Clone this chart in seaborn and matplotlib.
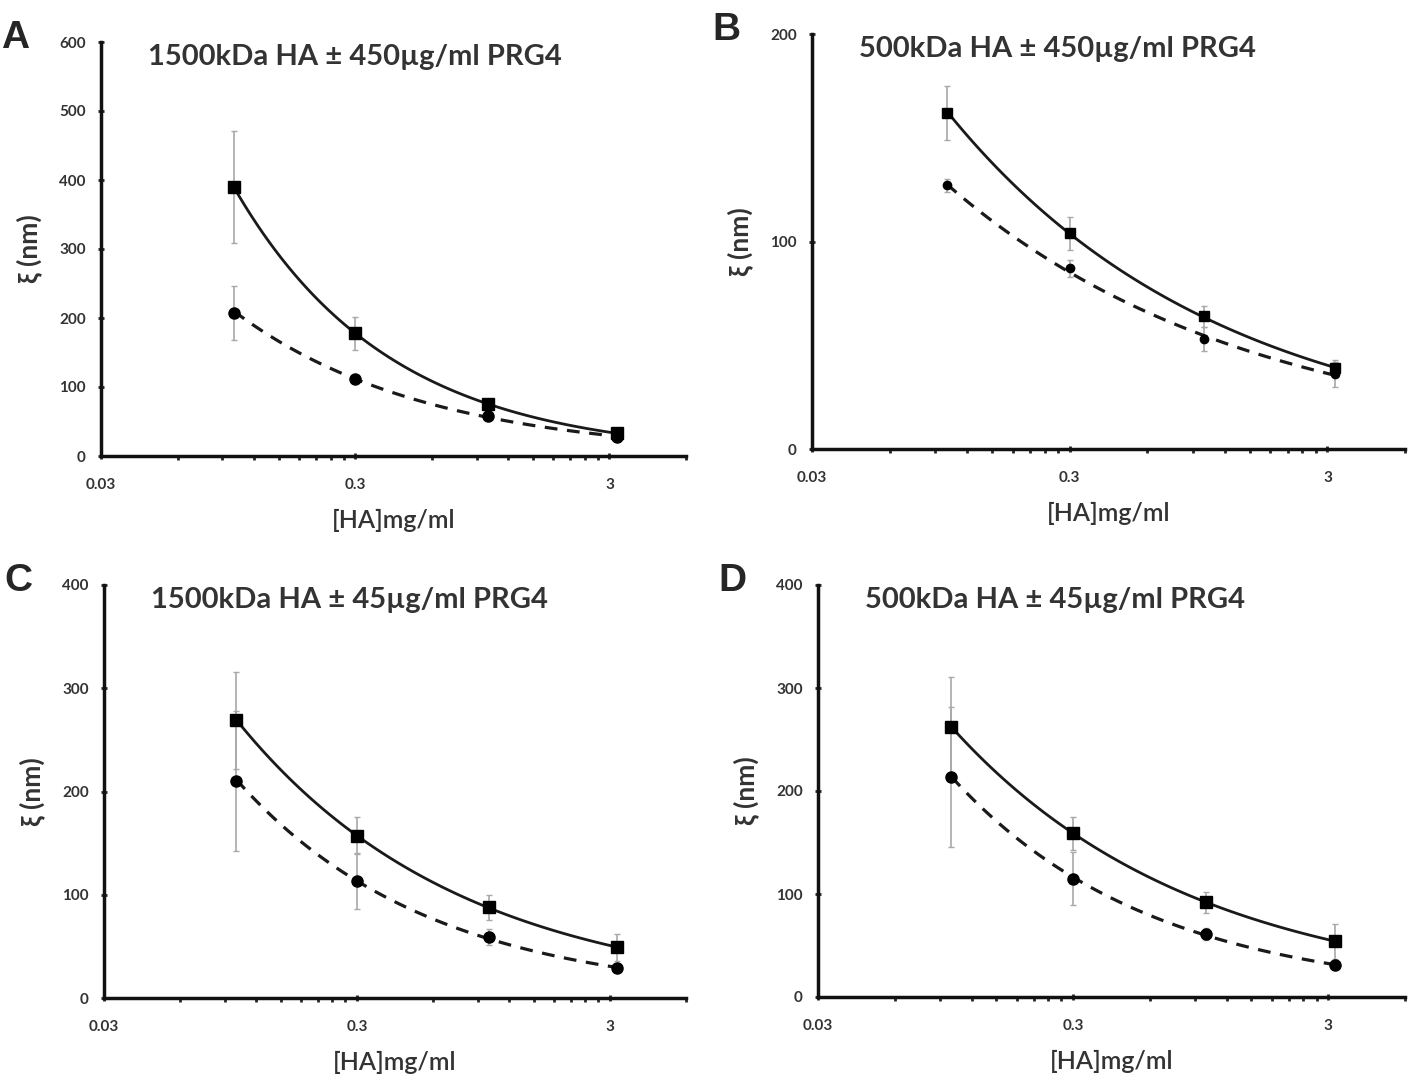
import numpy as np
import pandas as pd
import seaborn as sns
import matplotlib.pyplot as plt
from matplotlib.ticker import FixedLocator, NullFormatter

# HA concentration (mg/ml)
conc = [0.1, 0.3, 1.0, 3.2]

# square markers = solid fit, circle markers = dashed fit
a_sq = [390, 178, 75, 33]
a_sq_err = [81, 24, 6, 5]
a_ci = [207, 112, 58, 28]
a_ci_err = [39, 5, 5, 3]

b_sq = [162, 104, 64, 39]
b_sq_err = [13, 8, 5, 4]
b_ci = [127, 87, 53, 36]
b_ci_err = [3, 4, 6, 6]

c_sq = [269, 157, 88, 49]
c_sq_err = [47, 18, 12, 13]
c_ci = [210, 113, 59, 29]
c_ci_err = [68, 27, 8, 3]

d_sq = [262, 159, 92, 54]
d_sq_err = [49, 16, 10, 17]
d_ci = [214, 115, 61, 31]
d_ci_err = [68, 26, 6, 3]

titles = ["1500kDa HA \u00b1 450\u00b5g/ml PRG4", "500kDa HA \u00b1 450\u00b5g/ml PRG4",
          "1500kDa HA \u00b1 45\u00b5g/ml PRG4", "500kDa HA \u00b1 45\u00b5g/ml PRG4"]
letters = ["A", "B", "C", "D"]
ymax = [600, 200, 400, 400]

sns.set_style("ticks")
plt.rcParams['font.family'] = ['Lato', 'DejaVu Sans']

W, H = 1418, 1081
fig = plt.figure(figsize=(W / 100, H / 100), dpi=100)

# axes boxes in pixels: left, right, top, bottom
boxes = [(101, 686, 42, 456), (812, 1405, 34, 449),
         (104, 686, 585, 998), (818, 1405, 585, 997)]

panels = [(a_sq, a_sq_err, a_ci, a_ci_err), (b_sq, b_sq_err, b_ci, b_ci_err),
          (c_sq, c_sq_err, c_ci, c_ci_err), (d_sq, d_sq_err, d_ci, d_ci_err)]

gray = "#333333"


def power_fit(x, y):
    # Excel-style power trendline y = a * x^b
    b, loga = np.polyfit(np.log(x), np.log(y), 1)
    xs = np.geomspace(x[0], x[-1], 120)
    return pd.DataFrame({"x": xs, "y": np.exp(loga) * xs ** b})


for i, (l, r, t, b) in enumerate(boxes):
    ax = fig.add_axes([l / W, 1 - b / H, (r - l) / W, (b - t) / H])
    sq, sq_err, ci, ci_err = panels[i]
    ms = 9 if i != 1 else 7

    ax.errorbar(conc, sq, yerr=sq_err, fmt="none", ecolor="#a8a8a8", elinewidth=1.2, capsize=2, zorder=1)
    ax.errorbar(conc, ci, yerr=ci_err, fmt="none", ecolor="#a8a8a8", elinewidth=1.2, capsize=2, zorder=1)

    sns.lineplot(data=power_fit(conc, sq), x="x", y="y", ax=ax, color="#1a1a1a", lw=2, zorder=2)
    sns.lineplot(data=power_fit(conc, ci), x="x", y="y", ax=ax, color="#1a1a1a", lw=2.3,
                 linestyle=(0, (4, 3)), zorder=2)

    ax.plot(conc, sq, "s", color="black", ms=ms, zorder=3)
    ax.plot(conc, ci, "o", color="black", ms=ms - 1, zorder=3)

    ax.set_xscale("log")
    ax.set_xlim(0.03, 6)
    ax.set_ylim(0, ymax[i])
    ax.xaxis.set_major_locator(FixedLocator([0.03, 0.3, 3]))
    ax.set_xticklabels(["0.03", "0.3", "3"])
    minors = [0.03 * k for k in range(2, 10)] + [0.3 * k for k in range(2, 10)] + [6]
    ax.xaxis.set_minor_locator(FixedLocator(minors))
    ax.xaxis.set_minor_formatter(NullFormatter())
    ax.set_yticks(np.arange(0, ymax[i] + 1, 100))

    sns.despine(ax=ax)
    for s in ["left", "bottom"]:
        ax.spines[s].set_linewidth(2.5)
        ax.spines[s].set_color("#111111")
    ax.tick_params(axis="both", which="major", labelsize=11, labelcolor=gray, width=2, length=4,
                   direction="inout")
    ax.tick_params(axis="x", which="major", pad=14)
    ax.tick_params(axis="y", which="major", pad=9)
    ax.tick_params(axis="x", which="minor", width=2, length=3, direction="out")
    for lab in ax.get_xticklabels() + ax.get_yticklabels():
        lab.set_fontweight("bold")

    ax.set_xlabel("[HA]mg/ml", fontsize=18, color=gray, fontweight="semibold", labelpad=12)
    ax.set_ylabel("\u03be (nm)", fontsize=19, color=gray, fontweight="bold", labelpad=12)
    ax.text(0.08, 0.995, titles[i], transform=ax.transAxes, fontsize=21, color=gray,
            fontweight="bold", va="top", ha="left")
    fig.text((l - 100) / W, 1 - (t - 22) / H, letters[i], fontsize=28, fontweight="bold",
             family="Liberation Sans", va="top", ha="left")

fig.savefig("out.png", dpi=100)
